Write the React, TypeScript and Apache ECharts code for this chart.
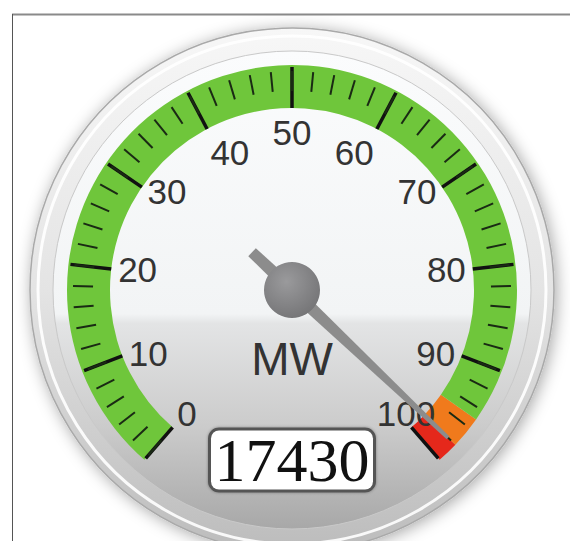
import React, { useEffect, useRef } from "react";
import * as echarts from "echarts";

// ---- data ----
const gaugeMin = [0];
const gaugeMax = [100];
const needleValue = [98];
const unitName = ["MW"];
const readout = ["17430"];
const bandStops = [0.95, 0.98, 1];
const bandColors = ["#6fc63b", "#f07a1c", "#e5281b"];

const CX = 292;
const CY = 290;

export default function App() {
  const ref = useRef<HTMLDivElement>(null);
  useEffect(() => {
    if (!ref.current) return;
    const chart = echarts.init(ref.current, null, { renderer: "svg" });
    const LG = echarts.graphic.LinearGradient;
    const RG = echarts.graphic.RadialGradient;
    const labelFont = { fontSize: 35, fontFamily: "Liberation Sans", color: "#333" };
    chart.setOption({
      animation: false,
      backgroundColor: "#ffffff",
      graphic: [
        { type: "line", z: 0, shape: { x1: 12, y1: 14.5, x2: 570, y2: 14.5 }, style: { stroke: "#8a8a8a", lineWidth: 2 } },
        { type: "line", z: 0, shape: { x1: 12.5, y1: 14, x2: 12.5, y2: 541 }, style: { stroke: "#555", lineWidth: 1 } },
        {
          type: "circle", z: 0,
          shape: { cx: CX, cy: CY, r: 262 },
          style: {
            fill: new LG(0, 0, 0, 1, [
              { offset: 0, color: "#f7f7f7" },
              { offset: 0.5, color: "#e4e4e4" },
              { offset: 1, color: "#bcbcbc" },
            ]),
            stroke: "#a9a9a9", lineWidth: 1.5,
            shadowBlur: 16, shadowColor: "rgba(0,0,0,0.35)", shadowOffsetX: 2, shadowOffsetY: 2,
          },
        },
        { type: "circle", z: 0, shape: { cx: CX, cy: CY, r: 254 }, style: { fill: "none", stroke: "rgba(255,255,255,0.9)", lineWidth: 3 } },
        {
          type: "circle", z: 0,
          shape: { cx: CX, cy: CY, r: 239 },
          style: {
            fill: new LG(0, 0, 0, 1, [
              { offset: 0, color: "#fbfcfd" },
              { offset: 0.55, color: "#f2f4f5" },
              { offset: 0.57, color: "#e3e4e5" },
              { offset: 0.78, color: "#cccccc" },
              { offset: 1, color: "#a8a8a8" },
            ]),
            stroke: "#c9c9c9", lineWidth: 1,
          },
        },
      ],
      series: [
        {
          type: "gauge",
          z: 2,
          center: [CX, CY],
          radius: 225,
          startAngle: 229,
          endAngle: -49,
          min: gaugeMin[0],
          max: gaugeMax[0],
          splitNumber: 10,
          axisLine: {
            lineStyle: {
              width: 43,
              color: bandStops.map((s, i) => [s, bandColors[i]]),
            },
          },
          splitLine: { distance: -41, length: 41, lineStyle: { color: "#111", width: 3.5 } },
          axisTick: { splitNumber: 5, distance: -37, length: 20, lineStyle: { color: "#1a2a14", width: 2 } },
          axisLabel: {
            distance: 50,
            ...labelFont,
            formatter: (v: number) =>
              v === gaugeMax[0] ? `{end|${v}}` : v === gaugeMin[0] ? `{start|${v}}` : `${v}`,
            rich: {
              end: { ...labelFont, width: 30, align: "left", padding: [0, 0, 18, 0] },
              start: { ...labelFont, padding: [0, 0, 18, 0] },
            },
          },
          pointer: {
            icon: "path://M4.5,0 L8.5,0 L13,215 L12,270 L1,270 L0,215 Z",
            length: 270,
            width: 13,
            offsetCenter: [0, 55],
            itemStyle: { color: "#8c8c8c" },
          },
          anchor: {
            show: true,
            showAbove: true,
            size: 56,
            itemStyle: {
              color: new RG(0.4, 0.35, 0.7, [
                { offset: 0, color: "#9a9a9c" },
                { offset: 1, color: "#747476" },
              ]),
            },
          },
          title: {
            offsetCenter: [0, 69],
            fontSize: 46,
            color: "#333",
            fontFamily: "Liberation Sans",
          },
          detail: {
            offsetCenter: [0, 170],
            formatter: () => readout[0],
            fontFamily: "Liberation Serif",
            fontWeight: "normal",
            fontSize: 62,
            width: 152,
            height: 53,
            lineHeight: 53,
            align: "center",
            color: "#111",
            backgroundColor: "#ffffff",
            borderColor: "#555",
            borderWidth: 3,
            borderRadius: 8,
            padding: [3, 5, 3, 5],
            shadowColor: "rgba(0,0,0,0.35)",
            shadowBlur: 3,
          },
          data: [{ value: needleValue[0], name: unitName[0] }],
        },
      ],
    });
    return () => chart.dispose();
  }, []);
  return (
    <div
      ref={ref}
      style={{ position: "absolute", left: 0, top: 0, width: 570, height: 541 }}
    />
  );
}
